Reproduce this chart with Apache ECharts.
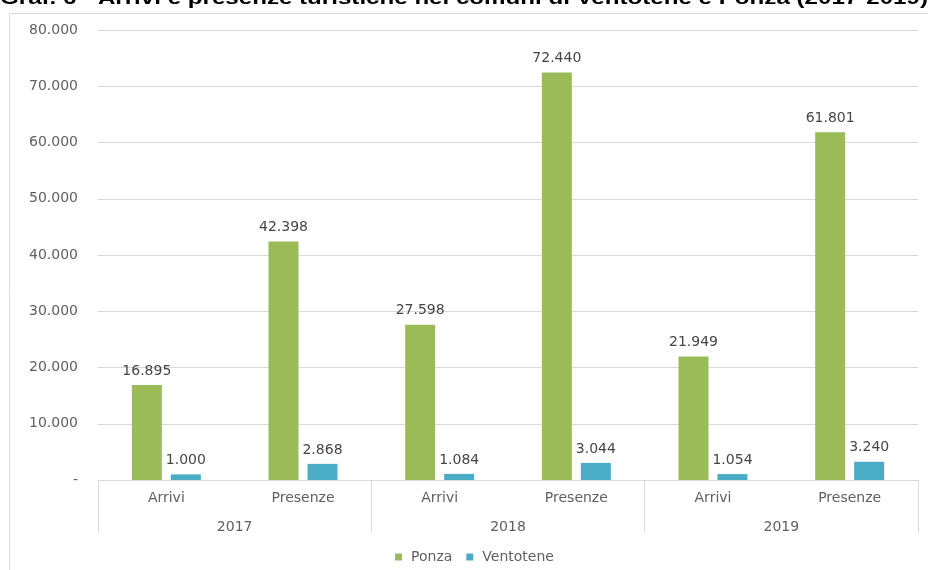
<!DOCTYPE html>
<html><head><meta charset="utf-8">
<script src="https://cdn.jsdelivr.net/npm/echarts@6/dist/echarts.min.js"></script>
<style>html,body{margin:0;padding:0;background:#fff}#c{width:928px;height:570px}</style>
</head><body><div id="c"></div>
<script>
const titleText = 'Graf. 6 - Arrivi e presenze turistiche nei comuni di Ventotene e Ponza (2017-2019)';
const categories = ['Arrivi','Presenze','Arrivi','Presenze','Arrivi','Presenze'];
const years = ['2017','2018','2019'];
const ponza = [16895, 42398, 27598, 72440, 21949, 61801];
const ventotene = [1000, 2868, 1084, 3044, 1054, 3240];
const seriesNames = ['Ponza','Ventotene'];

const FONT = 'DejaVu Sans';
const fmt = v => v === 0 ? '-' : String(v).replace(/\B(?=(\d{3})+(?!\d))/g, '.');

const chart = echarts.init(document.getElementById('c'), null, {renderer:'canvas'});
chart.setOption({
  animation:false,
  textStyle:{fontFamily:FONT},
  graphic:[
    {type:'rect', shape:{x:9.5,y:13.5,width:1000,height:1000}, style:{fill:'none',stroke:'#d9d9d9',lineWidth:1}, z:-1},
    {type:'text', x:0, y:-11, scaleX:1.27, scaleY:1, style:{text:titleText, font:'bold 19px "Liberation Sans", Arial', fill:'#000'}}
  ],
  grid:{left:98, right:10, top:30, bottom:90, containLabel:false},
  legend:{bottom:1, left:390, itemWidth:7, itemHeight:7, itemGap:14, icon:'rect',
    textStyle:{fontFamily:FONT, fontSize:14, color:'#606060', padding:[0,0,0,4]}, data:seriesNames},
  xAxis:[
    {type:'category', data:categories, position:'bottom',
     axisLine:{lineStyle:{color:'#d9d9d9'}}, axisTick:{show:false},
     axisLabel:{color:'#606060', fontSize:14, margin:11, fontFamily:FONT}},
    {type:'category', data:years, position:'bottom',
     axisLine:{show:false}, axisTick:{show:true, length:53, lineStyle:{color:'#d9d9d9'}, alignWithLabel:false},
     axisLabel:{color:'#606060', fontSize:14, margin:40, fontFamily:FONT}}
  ],
  yAxis:{type:'value', min:0, max:80000, interval:10000,
    axisLine:{show:false}, axisTick:{show:false},
    splitLine:{lineStyle:{color:'#d9d9d9'}},
    axisLabel:{color:'#606060', fontSize:14, margin:20, formatter:fmt, fontFamily:FONT}},
  series:[
    {name:seriesNames[0], type:'bar', data:ponza, xAxisIndex:0, barWidth:30, barGap:'30%',
     itemStyle:{color:'#9BBB59'},
     label:{show:true, position:'top', distance:7, color:'#454545', fontSize:14, fontFamily:FONT, formatter:p=>fmt(p.value)}},
    {name:seriesNames[1], type:'bar', data:ventotene, xAxisIndex:0, barWidth:30, barGap:'30%',
     itemStyle:{color:'#4BACC6'},
     label:{show:true, position:'top', distance:7, color:'#454545', fontSize:14, fontFamily:FONT, formatter:p=>fmt(p.value)}}
  ]
});
</script></body></html>
